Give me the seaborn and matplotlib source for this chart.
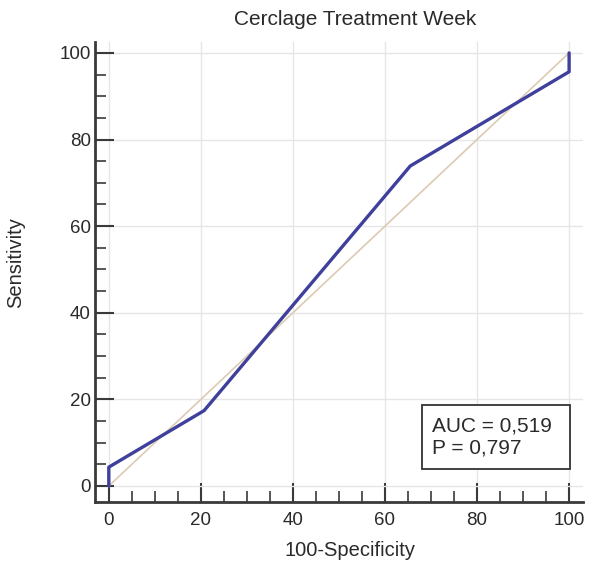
#!/usr/bin/env python
''' ROC curve for cerclage treatment week.
'''

import matplotlib
matplotlib.use('Agg')
import matplotlib.pyplot as plt
from matplotlib.patches import Rectangle
from matplotlib.ticker import MultipleLocator
import pandas as pd
import seaborn as sns

# ROC points.
fpr = [0.0, 0.0, 20.7, 65.5, 100.0, 100.0]
tpr = [0.0, 4.35, 17.4, 73.9, 95.65, 100.0]
diag = [0.0, 100.0]
auc_text = 'AUC = 0,519\nP = 0,797'


def main():
    sns.set_style('white')
    plt.rcParams['font.family'] = ['Liberation Sans', 'DejaVu Sans']

    roc = pd.DataFrame({'fpr': fpr, 'tpr': tpr})
    ref = pd.DataFrame({'x': diag, 'y': diag})

    fig = plt.figure(figsize=(5.9, 5.65), dpi=100)
    ax = fig.add_axes([0.161, 0.1115, 0.827, 0.814])

    # Chance line, then the ROC curve (no aggregation of repeated x).
    sns.lineplot(data=ref, x='x', y='y', ax=ax, color='#dccbb2',
                 linewidth=1.2, sort=False, estimator=None)
    sns.lineplot(data=roc, x='fpr', y='tpr', ax=ax, color='#3f3f9c',
                 linewidth=2.4, sort=False, estimator=None)

    ax.set_xlim(-3, 103)
    ax.set_ylim(-3.7, 102.5)
    ax.xaxis.set_major_locator(MultipleLocator(20))
    ax.yaxis.set_major_locator(MultipleLocator(20))
    ax.xaxis.set_minor_locator(MultipleLocator(5))
    ax.yaxis.set_minor_locator(MultipleLocator(5))
    ax.grid(True, which='major', color='#e6e6e6', linewidth=1)

    for side in ['top', 'right']:
        ax.spines[side].set_visible(False)
    for side in ['left', 'bottom']:
        ax.spines[side].set_color('#3a3a3a')
        ax.spines[side].set_linewidth(2)
    ax.tick_params(which='major', direction='in', length=14, width=1.5,
                   color='#3a3a3a', labelsize=13.5, labelcolor='#2a2a2a',
                   left=True, bottom=True)
    ax.tick_params(axis='x', which='major', pad=7)
    ax.tick_params(axis='y', which='major', pad=3)
    ax.tick_params(which='minor', direction='in', length=8, width=1.2,
                   color='#3a3a3a', left=True, bottom=True)

    ax.set_xlabel('100-Specificity', fontsize=14.5, color='#2a2a2a')
    ax.xaxis.set_label_coords(0.523, -0.085)
    ax.set_ylabel('Sensitivity', fontsize=14.5, color='#2a2a2a')
    ax.yaxis.set_label_coords(-0.143, 0.52)
    ax.set_title('Cerclage Treatment Week', fontsize=15, x=0.533, pad=12,
                 color='#2a2a2a')

    # Legend box with AUC and P value.
    ax.add_patch(Rectangle((68.1, 3.9), 32.1, 14.8, facecolor='white',
                           edgecolor='#333333', linewidth=1.3, zorder=4))
    ax.text(70.3, 11.3, auc_text, fontsize=15, va='center', ha='left',
            linespacing=1.15, color='#2a2a2a', zorder=5)

    fig.savefig('out.png', dpi=100)


if __name__ == '__main__':
    main()
